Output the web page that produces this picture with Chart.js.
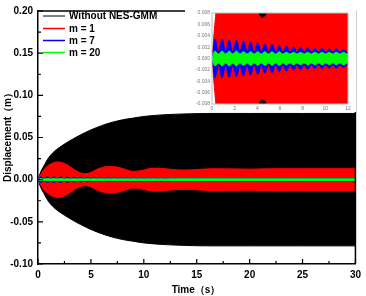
<!DOCTYPE html>
<html>
<head>
<meta charset="utf-8">
<script src="https://cdn.jsdelivr.net/npm/chart.js@4"></script>
<style>
html, body { margin: 0; padding: 0; background: #fff; }
#wrap { position: relative; width: 366px; height: 296px; }
#main { position: absolute; left: 0; top: 0; }
#inset { position: absolute; left: 185px; top: 7px; background: #fff; }
</style>
</head>
<body>
<div id="wrap">
    <canvas id="main" width="366" height="296"></canvas>
    <canvas id="inset" width="171" height="105"></canvas>
</div>
<script>
// envelopes (amplitude, symmetric about zero)
const blackTime = [0, 0.25, 0.5, 1, 1.5, 2, 3, 4, 5, 6, 7, 8, 9, 10, 12, 14, 16, 20, 25, 30];
const blackAmp = [0, 0.009, 0.015, 0.026, 0.033, 0.038, 0.046, 0.053, 0.059, 0.064, 0.068, 0.071, 0.073, 0.075, 0.077, 0.078, 0.0785, 0.0785, 0.0785, 0.0785];

const redTime = [0, 0.25, 0.5, 1, 1.5, 1.8, 2.2, 2.8, 3.4, 4, 4.45, 5, 5.6, 6.2, 6.8, 7.5, 8.2, 9, 9.8, 10.5, 11.2, 12, 13, 14, 15, 16.5, 18, 20, 22, 25, 30];
const redAmp = [0, 0.006, 0.011, 0.017, 0.0203, 0.021, 0.0205, 0.0175, 0.012, 0.0082, 0.0071, 0.0085, 0.0125, 0.015, 0.0157, 0.015, 0.0125, 0.0098, 0.011, 0.013, 0.0137, 0.013, 0.0118, 0.0115, 0.012, 0.013, 0.0128, 0.0125, 0.013, 0.013, 0.013];

// m = 7 and m = 20: lobes (peak / trough)
const blueTime = [0, 0.26, 0.57, 0.89, 1.2, 1.52, 1.83, 2.15, 2.46, 2.78, 3.09, 3.41, 3.72, 4.04, 4.35, 4.67, 4.98, 5.3, 5.61, 5.93, 6.24, 6.56, 6.87, 7.19, 7.5, 7.82, 8.13, 8.45, 8.76, 9.08, 9.39, 9.71, 10.02, 10.34, 10.65, 10.97, 11.28, 11.6, 11.91, 13, 15, 20, 25, 30];
const blueAmp = [0, 0.0034, 0.0012, 0.0034, 0.0012, 0.0033, 0.0012, 0.0032, 0.0012, 0.0031, 0.0012, 0.0029, 0.0011, 0.0028, 0.0011, 0.0026, 0.0011, 0.0025, 0.0011, 0.0023, 0.0011, 0.0022, 0.0011, 0.0021, 0.0011, 0.002, 0.0011, 0.0019, 0.0011, 0.0018, 0.0011, 0.0018, 0.0011, 0.0017, 0.0011, 0.0017, 0.0011, 0.0016, 0.0011, 0.0014, 0.0014, 0.0013, 0.0013, 0.0013];
const greenTime = blueTime;
const greenAmp = [0, 0.0013, 0.0008, 0.0013, 0.0008, 0.0013, 0.0008, 0.0013, 0.0008, 0.0012, 0.0008, 0.0012, 0.0008, 0.0012, 0.0008, 0.0012, 0.0008, 0.0012, 0.0008, 0.0012, 0.0008, 0.0011, 0.0008, 0.0011, 0.0008, 0.0011, 0.0008, 0.0011, 0.0008, 0.0011, 0.0008, 0.0011, 0.0008, 0.0011, 0.0008, 0.0011, 0.0008, 0.0011, 0.0008, 0.001, 0.001, 0.001, 0.001, 0.001];

const seriesNames = ["Without NES-GMM", "m = 1", "m = 7", "m = 20"];
const seriesColors = ["#000000", "#ff0000", "#0000ff", "#00ff00"];

const xTicksMain = [0, 5, 10, 15, 20, 25, 30];
const yTicksMain = [-0.10, -0.05, 0.00, 0.05, 0.10, 0.15, 0.20];

const FONT = '"Liberation Sans", Arial, sans-serif';

function band(label, times, amps, color, order, minT) {
    const up = [], down = [];
    times.forEach((t, i) => {
        if (minT !== undefined && t < minT) return;
        up.push({ x: t, y: amps[i] });
        down.push({ x: t, y: -amps[i] });
    });
    const common = {
        borderColor: color,
        backgroundColor: color,
        borderWidth: 1,
        pointRadius: 0,
        cubicInterpolationMode: "monotone",
        order: order
    };
    return [
        { ...common, label: label, data: up, fill: "+1" },
        { ...common, label: "", data: down, fill: false }
    ];
}

function allBands(blackMin) {
    return [
        ...band(seriesNames[0], blackTime, blackAmp, seriesColors[0], 4, blackMin),
        ...band(seriesNames[1], redTime, redAmp, seriesColors[1], 3),
        ...band(seriesNames[2], blueTime, blueAmp, seriesColors[2], 2),
        ...band(seriesNames[3], greenTime, greenAmp, seriesColors[3], 1)
    ];
}

const mainDecor = {
    id: "mainDecor",
    afterDraw(chart) {
        const ctx = chart.ctx;
        const a = chart.chartArea;
        const xs = chart.scales.x, ys = chart.scales.y;
        ctx.save();
        ctx.strokeStyle = "#000";
        ctx.lineWidth = 1.5;
        ctx.beginPath();
        ctx.moveTo(a.left, a.top); ctx.lineTo(a.right, a.top); ctx.lineTo(a.right, a.bottom);
        ctx.stroke();

        // inward ticks, major and minor
        ctx.lineWidth = 1.2;
        ctx.beginPath();
        for (let v = 0; v <= 30; v += 2.5) {
            const px = xs.getPixelForValue(v);
            const len = v % 5 === 0 ? 5 : 3;
            ctx.moveTo(px, a.bottom); ctx.lineTo(px, a.bottom - len);
        }
        for (let k = -4; k <= 8; k++) {
            const py = ys.getPixelForValue(k * 0.025);
            const len = k % 2 === 0 ? 5 : 3;
            ctx.moveTo(a.left, py); ctx.lineTo(a.left + len, py);
        }
        ctx.stroke();

        // legend
        ctx.font = "bold 10px " + FONT;
        ctx.textBaseline = "middle";
        ctx.textAlign = "left";
        const rows = [16, 28.5, 40.5, 52.5];
        seriesNames.forEach((name, i) => {
            ctx.strokeStyle = i === 0 ? "#555" : seriesColors[i];
            ctx.lineWidth = 1.5;
            ctx.beginPath();
            ctx.moveTo(43, rows[i]); ctx.lineTo(65, rows[i]);
            ctx.stroke();
            ctx.fillStyle = "#000";
            ctx.fillText(name, 69, rows[i] + 0.5);
        });

        // axis titles
        ctx.textAlign = "center";
        ctx.fillText("Time（s）", 196, 290);
        ctx.translate(8, 135);
        ctx.rotate(-Math.PI / 2);
        ctx.fillText("Displacement（m）", 0, 0);
        ctx.restore();
    }
};

new Chart(document.getElementById("main"), {
    type: "line",
    data: { datasets: allBands() },
    options: {
        responsive: false,
        animation: false,
        layout: { padding: { top: 6, right: 9, left: 0, bottom: 0 } },
        plugins: { legend: { display: false }, tooltip: { enabled: false } },
        scales: {
            x: {
                type: "linear", min: 0, max: 30,
                afterBuildTicks: s => { s.ticks = xTicksMain.map(v => ({ value: v })); },
                afterFit: s => { s.height = 32; },
                grid: { display: false, drawTicks: false },
                border: { display: true, color: "#000", width: 1.5 },
                ticks: { color: "#000", padding: 5, font: { family: FONT, size: 10, weight: "bold" } }
            },
            y: {
                type: "linear", min: -0.1, max: 0.2,
                afterBuildTicks: s => { s.ticks = yTicksMain.map(v => ({ value: v })); },
                afterFit: s => { s.width = 38; },
                grid: { display: false, drawTicks: false },
                border: { display: true, color: "#000", width: 1.5 },
                ticks: {
                    color: "#000", padding: 5,
                    font: { family: FONT, size: 10, weight: "bold" },
                    callback: v => v.toFixed(2)
                }
            }
        }
    },
    plugins: [mainDecor]
});

// inset: zoom of the first 12 s
const xTicksInset = [0, 2, 4, 6, 8, 10, 12];
const yTicksInset = [-0.008, -0.006, -0.004, -0.002, 0, 0.002, 0.004, 0.006, 0.008];

const insetFrame = {
    id: "insetFrame",
    afterDraw(chart) {
        const ctx = chart.ctx, a = chart.chartArea;
        ctx.save();
        ctx.strokeStyle = "#bbb";
        ctx.lineWidth = 1;
        ctx.strokeRect(a.left, a.top, a.right - a.left, a.bottom - a.top);
        ctx.restore();
    }
};

new Chart(document.getElementById("inset"), {
    type: "line",
    data: { datasets: allBands(1) },
    options: {
        responsive: false,
        animation: false,
        layout: { padding: { top: 6, right: 8, left: 0, bottom: 0 } },
        plugins: { legend: { display: false }, tooltip: { enabled: false } },
        scales: {
            x: {
                type: "linear", min: 0, max: 12,
                afterBuildTicks: s => { s.ticks = xTicksInset.map(v => ({ value: v })); },
                afterFit: s => { s.height = 8; },
                grid: { display: false, drawTicks: false },
                border: { display: false },
                ticks: { color: "#777", padding: 2, font: { family: FONT, size: 5 } }
            },
            y: {
                type: "linear", min: -0.008, max: 0.008,
                afterBuildTicks: s => { s.ticks = yTicksInset.map(v => ({ value: v })); },
                afterFit: s => { s.width = 27; },
                grid: { display: false, drawTicks: false },
                border: { display: false },
                ticks: {
                    color: "#777", padding: 2,
                    font: { family: FONT, size: 5 },
                    callback: v => v.toFixed(3)
                }
            }
        }
    },
    plugins: [insetFrame]
});
</script>
</body>
</html>
